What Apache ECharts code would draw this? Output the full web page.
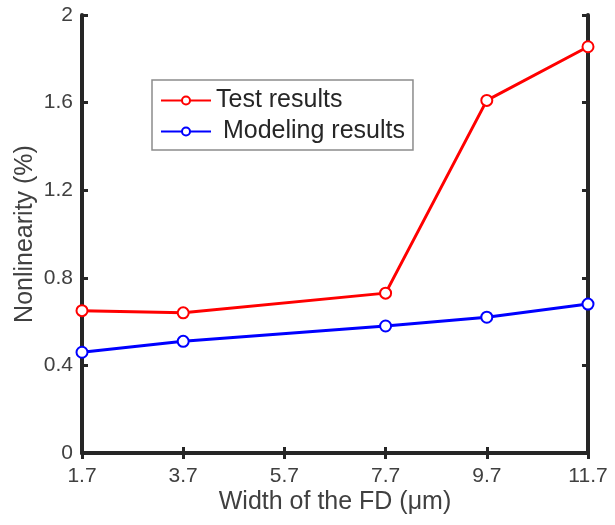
<!DOCTYPE html>
<html>
<head>
<meta charset="utf-8">
<script src="https://cdn.jsdelivr.net/npm/echarts@6/dist/echarts.min.js"></script>
<style>
  html, body { margin: 0; padding: 0; background: #fff; }
  #chart { width: 615px; height: 525px; }
</style>
</head>
<body>
<div id="chart"></div>
<script>
// FD width tick labels (μm) and measured widths
const widthTicks = ['1.7', '3.7', '5.7', '7.7', '9.7', '11.7'];
const widths = ['1.7', '3.7', '7.7', '9.7', '11.7'];
// Nonlinearity (%) per FD width
const testResults = [0.65, 0.64, 0.73, 1.61, 1.855];
const modelingResults = [0.46, 0.51, 0.58, 0.62, 0.68];
const yTicks = [0, 0.4, 0.8, 1.2, 1.6, 2];

const axisColor = '#262626';
const textColor = '#404040';
const fontFamily = 'Liberation Sans, Arial, sans-serif';

const pairs = (xs, ys) => xs.map((x, i) => [x, ys[i]]);

const chart = echarts.init(document.getElementById('chart'));

const boxLine = { show: true, lineStyle: { color: axisColor, width: 4 } };
const innerTick = { show: true, inside: true, length: 6, lineStyle: { color: axisColor, width: 3 } };

chart.setOption({
  animation: false,
  grid: { left: 82, right: 27, top: 15, bottom: 72, containLabel: false },
  legend: {
    orient: 'vertical',
    left: 152,
    top: 80,
    itemWidth: 50,
    itemHeight: 10,
    itemGap: 6,
    padding: [8, 8, 6, 8],
    backgroundColor: '#fff',
    borderColor: '#8c8c8c',
    borderWidth: 1.5,
    borderRadius: 0,
    textStyle: { fontFamily, fontSize: 25, color: '#262626' },
    data: ['Test results', 'Modeling results'],
    formatter: n => n === 'Modeling results' ? ' ' + n : n
  },
  xAxis: [
    {
      type: 'category',
      data: widthTicks,
      boundaryGap: false,
      axisLine: boxLine,
      axisTick: { ...innerTick, alignWithLabel: true },
      axisLabel: { fontFamily, fontSize: 21, color: textColor, margin: 13 },
      splitLine: { show: false },
      name: 'Width of the FD (μm)',
      nameLocation: 'middle',
      nameGap: 37,
      nameMoveOverlap: false,
      nameTextStyle: { fontFamily, fontSize: 25, color: textColor }
    },
    {
      type: 'category',
      data: widthTicks,
      boundaryGap: false,
      position: 'top',
      axisLine: boxLine,
      axisTick: innerTick,
      axisLabel: { show: false },
      splitLine: { show: false }
    }
  ],
  yAxis: [
    {
      type: 'value',
      min: yTicks[0],
      max: yTicks[yTicks.length - 1],
      interval: 0.4,
      axisLine: boxLine,
      axisTick: innerTick,
      axisLabel: {
        fontFamily, fontSize: 21, color: textColor, margin: 9,
        formatter: v => String(Math.round(v * 10) / 10)
      },
      splitLine: { show: false },
      name: 'Nonlinearity (%)',
      nameLocation: 'middle',
      nameGap: 44,
      nameMoveOverlap: false,
      nameRotate: 90,
      nameTextStyle: { fontFamily, fontSize: 25, color: textColor }
    },
    {
      type: 'value',
      min: yTicks[0],
      max: yTicks[yTicks.length - 1],
      interval: 0.4,
      position: 'right',
      axisLine: boxLine,
      axisTick: innerTick,
      axisLabel: { show: false },
      splitLine: { show: false }
    }
  ],
  series: [
    {
      name: 'Test results',
      type: 'line',
      data: pairs(widths, testResults),
      symbol: 'emptyCircle',
      symbolSize: 11,
      lineStyle: { color: '#ff0000', width: 3 },
      itemStyle: { color: '#ff0000', borderWidth: 2.5 },
      z: 3
    },
    {
      name: 'Modeling results',
      type: 'line',
      data: pairs(widths, modelingResults),
      symbol: 'emptyCircle',
      symbolSize: 11,
      lineStyle: { color: '#0000ff', width: 3 },
      itemStyle: { color: '#0000ff', borderWidth: 2.5 },
      z: 3
    }
  ]
});
</script>
</body>
</html>
